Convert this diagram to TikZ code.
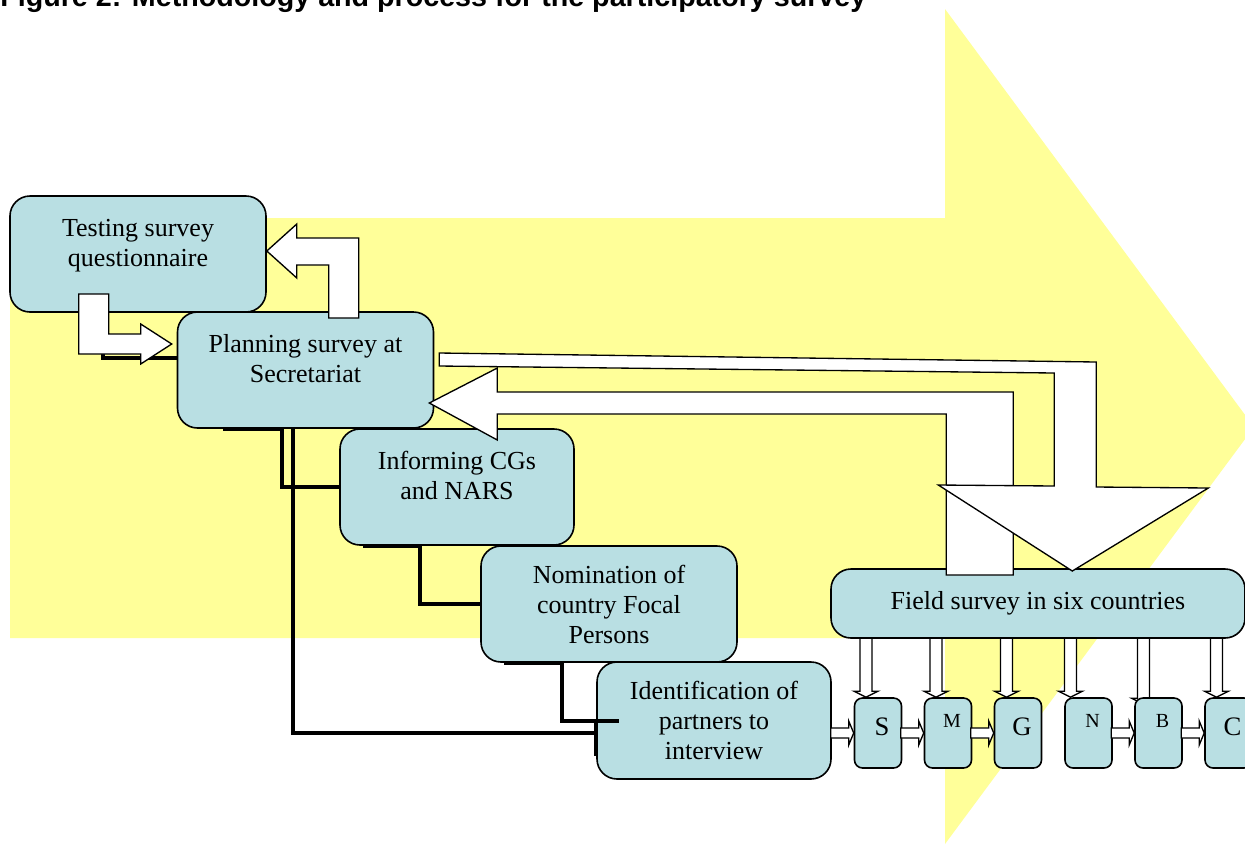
\documentclass[tikz,border=0pt]{standalone}
\usepackage{fontspec}
\setmainfont{Liberation Serif}
\newfontfamily\headfont{Liberation Sans}
\usepackage{tikz}
\usetikzlibrary{calc, backgrounds}

\definecolor{bandyellow}{RGB}{255,255,153}
\definecolor{boxteal}{RGB}{185,223,227}

\newcommand\bigletter[1]{{\fontsize{20}{24}\selectfont\hspace*{6pt}\raisebox{-2pt}[0pt][0pt]{#1}}}
\newcommand\smallletter[1]{{\fontsize{15}{18}\selectfont\hspace*{6pt}\raisebox{4pt}[0pt][0pt]{#1}}}
\newcommand\stepto[1]{\draw[blockarrow] (#1.west) -- ++(-5,-12) -- ++(0,7) -- ++(-18,0) -- ++(0,10) -- ++(18,0) -- ++(0,7) -- cycle;}
\newcommand\dropto[3]{\draw[blockarrow] ($(#1.north)+(#2,#3)$) -- ++(-12,-6) -- ++(6,0) -- ++(0,-54-#3) -- ++(12,0) -- ++(0,54+#3) -- ++(6,0) -- cycle;}

\begin{document}
\begin{tikzpicture}[
    x=0.75pt, y=-0.75pt,
    stage/.style={rectangle, rounded corners=15pt, draw=black, line width=1.2pt, fill=boxteal, align=center, inner sep=0pt, font=\fontsize{19.5}{22.5}\selectfont},
    widebox/.style={stage, minimum width=192pt, minimum height=87pt},
    narrowbox/.style={stage, minimum width=175.5pt, minimum height=87pt},
    smallbox/.style={rectangle, rounded corners=6pt, draw=black, line width=1.2pt, fill=boxteal, minimum width=35.25pt, minimum height=52.5pt, inner sep=0pt},
    link/.style={line width=3pt},
    blockarrow/.style={draw=black, fill=white, line width=1pt, line join=miter}
]
    \useasboundingbox (0,0) rectangle (1245,844);

    % Title (cut at the top)
    \node[anchor=base west, inner sep=0pt, font=\headfont\bfseries\fontsize{21.5}{24}\selectfont] (title) at (0,6) {Figure 2: Methodology and process for the participatory survey};

    % Yellow band
    \begin{scope}[on background layer]
        \fill[bandyellow] (10,218) -- (945,218) -- (945,9) -- (1254,427) -- (945,844) -- (945,638) -- (10,638) -- cycle;
    \end{scope}

    % Steps
    \node[widebox] (testing) at (138,254) {Testing survey\\questionnaire\\[-12pt]\strut};
    \node[widebox] (plan) at (305.5,370) {Planning survey at\\Secretariat\\[-12pt]\strut};
    \node[narrowbox] (inform) at (457,487) {Informing CGs\\and NARS\\[-12pt]\strut};
    \node[widebox] (nominate) at (609,604) {Nomination of\\country Focal\\Persons};
    \node[narrowbox, minimum height=87.75pt] (identify) at (714,720.5) {Identification of\\partners to\\interview};
    \node[stage, minimum width=310.5pt, minimum height=51.75pt] (field) at (1038,603.5) {Field survey in six countries};

    % Countries
    \node[smallbox] (s) at (878,733) {\bigletter{S}};
    \node[smallbox] (m) at (948,733) {\smallletter{M}};
    \node[smallbox] (g) at (1018,733) {\bigletter{G}};
    \node[smallbox] (n) at (1088.5,733) {\smallletter{N}};
    \node[smallbox] (b) at (1158.5,733) {\smallletter{B}};
    \node[smallbox] (c) at (1228.5,733) {\bigletter{C}};

    % Connectors
    \draw[link] ($(testing.south west)+(94,0)$) |- ($(plan.west)+(0,-12)$);
    \draw[link] ($(plan.south west)+(46,0)$) -- ++(59,0) |- (inform.west);
    \draw[link] ($(plan.south west)+(116,0)$) |- ($(identify.west)+(0,12)$);
    \draw[link] (identify.west) -- ++(0,35);
    \draw[link] ($(inform.south west)+(24,0)$) -- ++(57,0) |- (nominate.west);
    \draw[link] ($(nominate.south west)+(24,0)$) -- ++(58,0) |- ($(identify.west)+(23,0)$);

    % Block arrows
    \draw[blockarrow] ($(plan.west)+(-5,-26)$) -- ++(-31,-20) -- ++(0,10) -- ++(-32,0) -- ++(0,-40) -- ++(-30,0) -- ++(0,60) -- ++(62,0) -- ++(0,10) -- cycle;
    \draw[blockarrow] ($(testing.east)+(0,-3)$) -- ++(30,-27) -- ++(0,14) -- ++(62,0) -- ++(0,80) -- ++(-30,0) -- ++(0,-53) -- ++(-32,0) -- ++(0,13) -- cycle;
    \draw[blockarrow] ($(plan.east)+(-5,33)$) -- ++(68,-35) -- ++(0,24) -- ++(516,0) -- ++(0,183) -- ++(-67,0) -- ++(0,-161) -- ++(-449,0) -- ++(0,26) -- cycle;
    \draw[blockarrow] ($(plan.east)+(5,-17)$) -- ++(657,9) -- ++(0,125) -- ++(112,1) -- ++(-136,83) -- ++(-134,-86) -- ++(116,1) -- ++(0,-113) -- ++(-615,-7) -- cycle;

    % Field survey to each country
    \begin{scope}[on background layer]
        \dropto{s}{-12}{0}
        \dropto{m}{-12}{0}
        \dropto{g}{-11.5}{0}
        \dropto{n}{-18}{0}
        \dropto{b}{-15}{7}
        \dropto{c}{-12}{0}
    \end{scope}
    \stepto{s}
    \stepto{m}
    \stepto{g}
    \stepto{b}
    \stepto{c}
\end{tikzpicture}
\end{document}
